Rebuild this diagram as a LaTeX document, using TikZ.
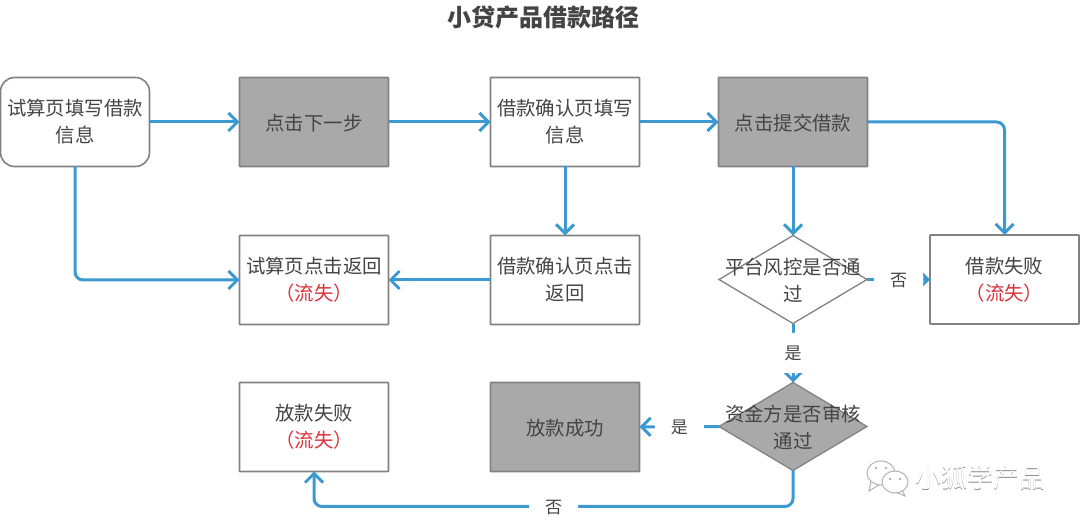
\documentclass[tikz,border=0pt]{standalone}
\usepackage{fontspec}
\setmainfont{Noto Sans CJK SC}
\usetikzlibrary{arrows.meta,positioning,shapes.geometric}
\definecolor{flowblue}{HTML}{3D9AD1}
\definecolor{boxgray}{HTML}{A9A9A9}
\definecolor{edgegray}{HTML}{828282}
\definecolor{textgray}{HTML}{444444}
\definecolor{lossred}{HTML}{D8343C}

\begin{document}
\begin{tikzpicture}[x=1pt, y=1pt, node distance=69pt]
  \tikzset{
    block/.style={draw=edgegray, line width=1.6pt, rounded corners=0.4pt, fill=white, outer sep=0pt, minimum width=149pt, minimum height=89pt, text=textgray, align=center, font=\fontsize{19.4}{27}\selectfont, execute at begin node={\rule{0pt}{19pt}}},
    action/.style={block, fill=boxgray},
    begin/.style={block, rounded corners=14pt},
    decide/.style={draw=edgegray, line width=1.3pt, fill=white, diamond, outer sep=0pt, inner sep=0pt, minimum width=148pt, minimum height=88pt},
    decidetext/.style={text=textgray, align=center, font=\fontsize{19.4}{27}\selectfont, yshift=-1pt},
    flow/.style={-{Straight Barb[length=9pt, width=18pt]}, line width=3pt, draw=flowblue, rounded corners=8pt},
    answer/.style={fill=white, text=textgray, inner sep=0pt, minimum width=49pt, minimum height=40pt, font=\fontsize{17}{20}\selectfont, yshift=-1pt},
    stamp/.style={font=\fontsize{26}{30}\selectfont},
    bubble/.style={draw=black!30, line width=1pt, fill=white}
  }
  \useasboundingbox (0,0) rectangle (1080,-526);

  \node[font=\fontsize{24}{28}\selectfont\bfseries, text=textgray] (title) at (543,-17) {小贷产品借款路径};

  \node[begin] (start) at (75,-122) {试算页填写借款\\信息};
  \node[action, right=90pt of start] (next) {点击下一步};
  \node[block, right=102pt of next] (confirm) {借款确认页填写\\信息};
  \node[action, right=79pt of confirm] (submit) {点击提交借款};

  \node[block, below=of next] (trialback) {试算页点击返回\\\textcolor{lossred}{（流失）}};
  \node[block, below=of confirm] (confirmback) {借款确认页点击\\返回};
  \node[decide, below=of submit] (risk) {};
  \node[decidetext] (risktext) at (risk) {平台风控是否通\\过};
  \node[block, right=63pt of risk] (reject) {借款失败\\\textcolor{lossred}{（流失）}};

  \node[block, below=58pt of trialback] (payfail) {放款失败\\\textcolor{lossred}{（流失）}};
  \node[action, below=58pt of confirmback] (payok) {放款成功};
  \node[decide, fill=boxgray, below=59pt of risk] (fund) {};
  \node[decidetext] (fundtext) at (fund) {资金方是否审核\\通过};

  \draw[flow] (start) -- (next);
  \draw[flow] (next) -- (confirm);
  \draw[flow] (confirm) -- (submit);
  \draw[flow] (start) |- (trialback);
  \draw[flow] (confirm) -- (confirmback);
  \draw[flow] (confirmback) -- (trialback);
  \draw[flow] (submit) -- (risk);
  \draw[flow] (submit) -| (reject);
  \draw[flow] (risk) -- node[answer] (no1) {否} (reject);
  \draw[flow] (risk) -- node[answer, yshift=1pt] (yes1) {是} (fund);
  \draw[flow] (fund) -- node[answer] (yes2) {是} (payok);
  \draw[flow] (fund.south) -- ++(0,-36) -| node[answer, pos=0.25] (no2) {否} (payfail.south);

  \node[stamp, text=black!45] (stampback) at (980.6,-478.6) {小狐学产品};
  \node[stamp, text=white] (stampfront) at (980,-478) {小狐学产品};
  \draw[bubble] (871,-481) -- (869,-491) -- (879,-485) -- cycle;
  \draw[bubble] (881,-473) ellipse (14 and 12);
  \draw[bubble] (902,-490) -- (905,-496) -- (895,-492) -- cycle;
  \draw[bubble] (895,-482) ellipse (13 and 11);
  \foreach \ex/\ey in {876/-468, 886/-468, 890/-479, 900/-479}
    \fill[black!40] (\ex,\ey) circle (1.2);
\end{tikzpicture}
\end{document}
